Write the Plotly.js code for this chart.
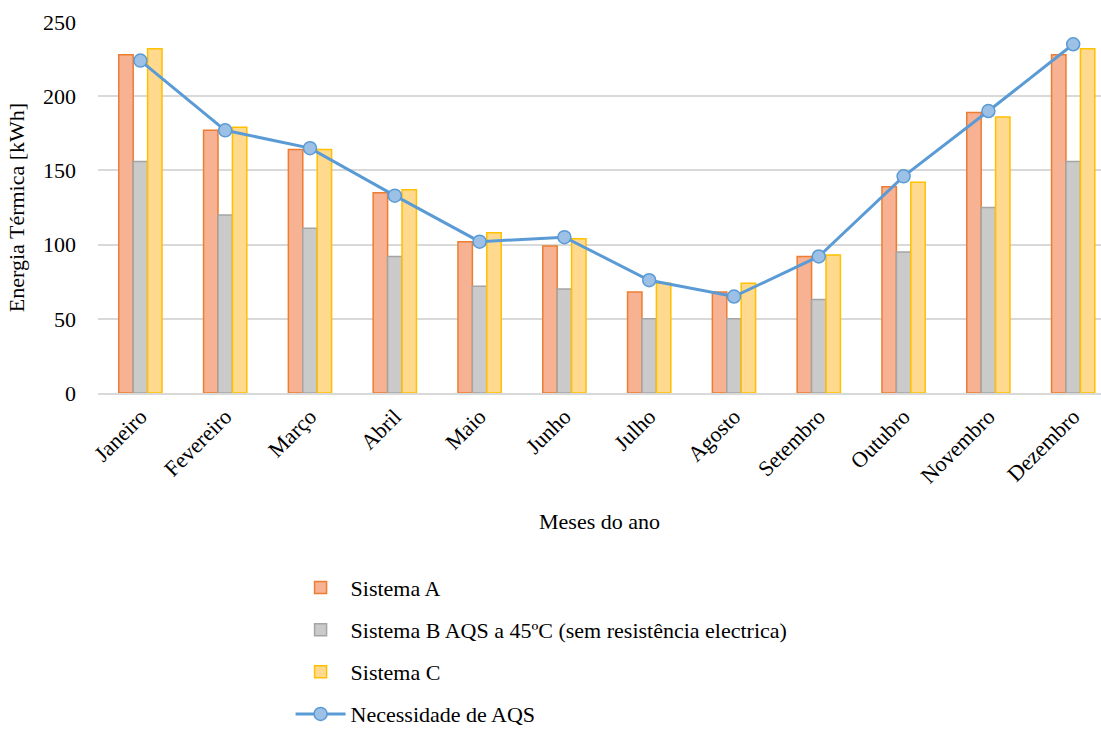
<!DOCTYPE html>
<html>
<head>
<meta charset="utf-8">
<script src="https://cdn.plot.ly/plotly-3.0.1.min.js"></script>
<style>
html,body{margin:0;padding:0;background:#fff;}
#chart{width:1101px;height:729px;}
#chart text{font-family:'Liberation Serif','Times New Roman',serif !important;}
</style>
</head>
<body>
<div id="chart"></div>
<script>
const months = ["Janeiro","Fevereiro","Março","Abril","Maio","Junho","Julho","Agosto","Setembro","Outubro","Novembro","Dezembro"];
const sistemaA = [228,177,164,135,102,99,68,68,92,139,189,228];
const sistemaB = [156,120,111,92,72,70,50,50,63,95,125,156];
const sistemaC = [232,179,164,137,108,104,74,74,93,142,186,232];
const necessidade = [224,177,165,133,102,105,76,65,92,146,190,235];
const yTicks = [0,50,100,150,200,250];

const fam = "Times New Roman";
const traces = [
  {type:"bar", name:"Sistema A", x:months, y:sistemaA, legendgroup:"a",
   marker:{color:"#F7B293", line:{color:"#ED7D31", width:1.5}}},
  {type:"bar", name:"Sistema B AQS a 45ºC (sem resistência electrica)", x:months, y:sistemaB, legendgroup:"b",
   marker:{color:"#CACACA", line:{color:"#A5A5A5", width:1.5}}},
  {type:"bar", name:"Sistema C", x:months, y:sistemaC, legendgroup:"c",
   marker:{color:"#FFDA8E", line:{color:"#FFC000", width:1.5}}},
  {type:"scatter", mode:"lines+markers", name:"Necessidade de AQS", x:months, y:necessidade, legendgroup:"d",
   line:{color:"#5B9BD5", width:3},
   marker:{size:13, color:"#9DC0E6", line:{color:"#5B9BD5", width:1.5}}}
];
const layout = {
  width:1101, height:729,
  margin:{l:98, r:0, t:22, b:336},
  paper_bgcolor:"#fff", plot_bgcolor:"#fff",
  font:{family:fam, size:22},
  barmode:"group", bargap:0.49, bargroupgap:0,
  showlegend:true,
  legend:{orientation:"v", x:0.192, xanchor:"left", yref:"container", y:0.2225, yanchor:"top",
    itemwidth:50, traceorder:"grouped", tracegroupgap:10.5, font:{family:fam, size:22, color:"#000"}},
  xaxis:{range:[-0.5, 11.328], tickangle:-45, showgrid:false, showline:true,
    linecolor:"#D9D9D9", linewidth:2, ticks:"", tickfont:{family:fam, size:22, color:"#000"},
    title:{text:"Meses do ano", font:{family:fam, size:22, color:"#000"}, standoff:26}},
  yaxis:{range:[0,250], tickvals:yTicks, showgrid:true, gridcolor:"#D9D9D9", gridwidth:2,
    zeroline:false, showline:false, ticks:"", ticklabelstandoff:21, tickfont:{family:fam, size:22, color:"#000"},
    title:{text:"Energia Térmica [kWh]", font:{family:fam, size:22, color:"#000"}, standoff:12}}
};
Plotly.newPlot("chart", traces, layout, {displayModeBar:false});
</script>
</body>
</html>
